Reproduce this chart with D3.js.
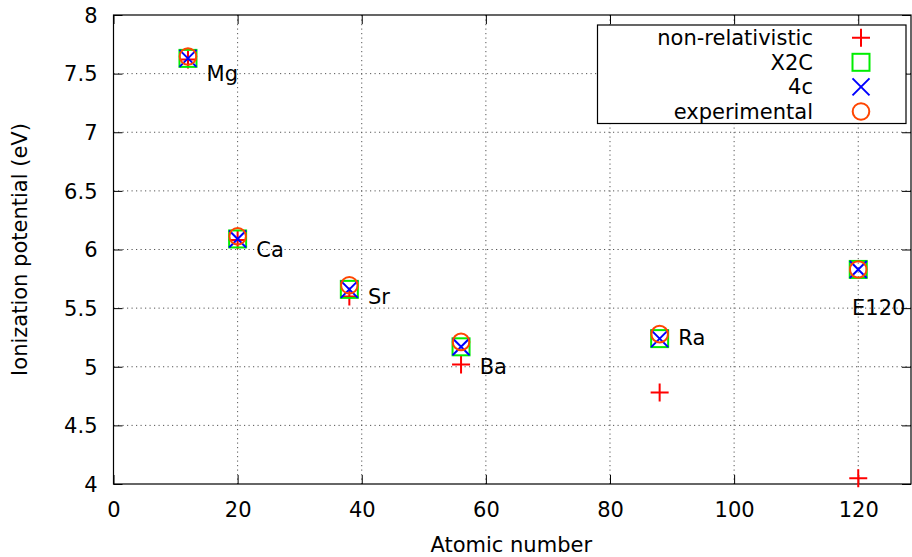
<!DOCTYPE html>
<html><head><meta charset="utf-8">
<script src="https://cdn.jsdelivr.net/npm/d3@7"></script>
<style>body{margin:0;background:#fff}svg{display:block}text{font-family:"DejaVu Sans",sans-serif;fill:#000}</style>
</head><body>
<script>
const elements = ["Mg","Ca","Sr","Ba","Ra","E120"];
const atomicNumbers = [12,20,38,56,88,120];
const nonRelativistic = [7.62,6.08,5.60,5.02,4.78,4.05];
const x2c = [7.63,6.09,5.66,5.17,5.24,5.83];
const fourC = [7.63,6.09,5.66,5.17,5.24,5.83];
const experimental = [7.646,6.113,5.695,5.212,5.278,5.83];
const labelX = [15,23,41,59,91,119];
const labelY = [7.5,6.0,5.6,5.0,5.25,5.5];
const xTicks = [0,20,40,60,80,100,120];
const yTicks = [4,4.5,5,5.5,6,6.5,7,7.5,8];
const seriesNames = ["non-relativistic","X2C","4c","experimental"];

const W=912,H=557;
const m={l:113.5,r:911,t:15,b:484};
const svg=d3.select("body").append("svg").attr("width",W).attr("height",H);
const x=d3.scaleLinear().domain([0,128.5]).range([m.l,m.r]);
const y=d3.scaleLinear().domain([4,8]).range([m.b,m.t]);
const FS=21;

// grid
const g=svg.append("g");
g.selectAll(".gx").data(xTicks.filter(d=>d>0)).enter().append("line")
 .attr("x1",d=>x(d)).attr("x2",d=>x(d)).attr("y1",m.t).attr("y2",m.b)
 .attr("stroke","#555").attr("stroke-width",1).attr("stroke-dasharray","1.2,3.3");
g.selectAll(".gy").data(yTicks.filter(d=>d>4&&d<8)).enter().append("line")
 .attr("y1",d=>y(d)).attr("y2",d=>y(d)).attr("x1",m.l).attr("x2",m.r)
 .attr("stroke","#555").attr("stroke-width",1).attr("stroke-dasharray","1.2,3.3");

// axes with inward ticks
const ax=svg.append("g").attr("transform",`translate(0,${m.b})`)
 .call(d3.axisBottom(x).tickValues(xTicks).tickSize(-9).tickPadding(18).tickFormat(d3.format("d")));
const axTop=svg.append("g").attr("transform",`translate(0,${m.t})`)
 .call(d3.axisTop(x).tickValues(xTicks).tickSize(-9).tickFormat(""));
const ay=svg.append("g").attr("transform",`translate(${m.l},0)`)
 .call(d3.axisLeft(y).tickValues(yTicks).tickSize(-9).tickPadding(16).tickFormat(d=>String(d)));
const ayR=svg.append("g").attr("transform",`translate(${m.r},0)`)
 .call(d3.axisRight(y).tickValues(yTicks).tickSize(-9).tickFormat(""));
[ax,axTop,ay,ayR].forEach(a=>{
  a.select(".domain").remove();
  a.selectAll("line").attr("stroke","#000").attr("stroke-width",1);
  a.selectAll("text").style("font-size",FS+"px").style("font-family","DejaVu Sans");
});
ay.selectAll("text").attr("dy","0.35em");
svg.append("rect").attr("x",m.l).attr("y",m.t).attr("width",m.r-m.l).attr("height",m.b-m.t)
 .attr("fill","none").attr("stroke","#000").attr("stroke-width",1.2);

// axis titles
svg.append("text").attr("x",(m.l+m.r)/2-1).attr("y",552).attr("text-anchor","middle")
 .style("font-size",FS+"px").text("Atomic number");
svg.append("text").attr("transform",`translate(27,${(m.t+m.b)/2}) rotate(-90)`).attr("text-anchor","middle")
 .style("font-size",FS+"px").text("Ionization potential (eV)");

// symbols
function sym(sel,type,cx,cy){
  const s=9;
  if(type===0){
    sel.append("path").attr("d",`M${cx-s},${cy}H${cx+s}M${cx},${cy-s}V${cy+s}`).attr("stroke","#ff0000").attr("stroke-width",2).attr("fill","none");
  } else if(type===1){
    sel.append("rect").attr("x",cx-8.5).attr("y",cy-8.5).attr("width",17).attr("height",17).attr("stroke","#00ee00").attr("stroke-width",2).attr("fill","none");
  } else if(type===2){
    const t=8.5;
    sel.append("path").attr("d",`M${cx-t},${cy-t}L${cx+t},${cy+t}M${cx-t},${cy+t}L${cx+t},${cy-t}`).attr("stroke","#0000ff").attr("stroke-width",2).attr("fill","none");
  } else {
    sel.append("circle").attr("cx",cx).attr("cy",cy).attr("r",8.3).attr("stroke","#ff4500").attr("stroke-width",2).attr("fill","none");
  }
}
const series=[nonRelativistic,x2c,fourC,experimental];
const pts=svg.append("g");
series.forEach((vals,si)=>{
  vals.forEach((v,i)=>sym(pts,si,x(atomicNumbers[i]),y(v)));
});

// element labels
svg.append("g").selectAll("text").data(elements).enter().append("text")
 .attr("x",(d,i)=>x(labelX[i])).attr("y",(d,i)=>y(labelY[i])).attr("dy","0.35em")
 .style("font-size",FS+"px").text(d=>d);

// legend
const lg=svg.append("g");
lg.append("rect").attr("x",597.5).attr("y",25).attr("width",308.5).attr("height",98.5)
 .attr("fill","#fff").attr("stroke","#000").attr("stroke-width",1.2);
seriesNames.forEach((n,i)=>{
  const cy=37.7+i*24.6;
  lg.append("text").attr("x",813).attr("y",cy).attr("dy","0.35em").attr("text-anchor","end")
   .style("font-size",FS+"px").text(n);
  sym(lg,i,861,cy);
});
</script>
</body></html>
